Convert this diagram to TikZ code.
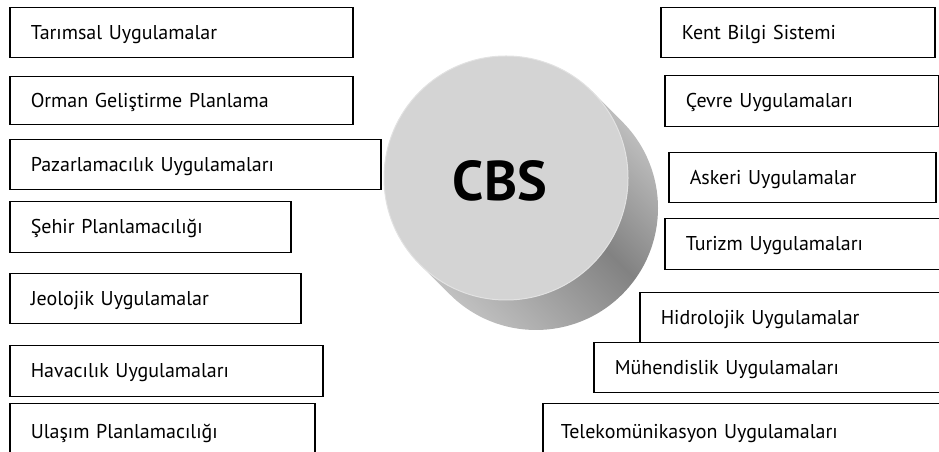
\documentclass[tikz,border=0pt]{standalone}
\usepackage{fontspec}
\setmainfont{PT Sans}
\usetikzlibrary{positioning,calc}

\definecolor{facegray}{RGB}{212,212,212}
\definecolor{rimgray}{RGB}{226,226,226}
\definecolor{sidelo}{RGB}{200,200,200}
\definecolor{sidedk}{RGB}{130,130,130}
\definecolor{sidehi}{RGB}{240,240,240}
\pgfdeclareverticalshading{sideshade}{100bp}{color(0bp)=(sidelo); color(22bp)=(sidelo); color(54bp)=(sidedk); color(92bp)=(sidehi); color(100bp)=(sidehi)}

\begin{document}
\begin{tikzpicture}[x=1pt,y=1pt,
    app/.style={draw, line width=1.5pt, fill=white, anchor=north west,
      minimum height=50pt, inner xsep=21pt, inner ysep=0pt, align=left,
      text height=14pt, text depth=0.6pt, font=\fontsize{20}{23}\selectfont}]
\useasboundingbox (0,0) rectangle (939,452);

% silindir
\coordinate (front) at (506,274);
\coordinate (back) at (536,244);
\shade[shading=sideshade, shading angle=-45]
  ($(front)+(45:122)$) -- ($(back)+(45:122)$)
  arc[start angle=45, end angle=-135, radius=122]
  -- ($(front)+(-135:122)$) -- cycle;
\filldraw[fill=facegray, draw=rimgray, line width=1pt] (front) circle (122);
\node[font=\fontsize{56}{60}\bfseries\selectfont] (cbs) at (500,271) {CBS};

% sol kutular
\node[app, text width=301pt] (tar)   at (9,445) {Tarımsal Uygulamalar};
\node[app, text width=301pt, minimum height=48pt] (orman) at (9,376) {Orman Geliştirme Planlama};
\node[app, text width=329pt] (pazar) at (9,313) {Pazarlamacılık Uygulamaları};
\node[app, text width=239pt, minimum height=51pt] (sehir) at (9,251) {Şehir Planlamacılığı};
\node[app, text width=249pt] (jeo)   at (9,179) {Jeolojik Uygulamalar};
\node[app, text width=271pt, minimum height=51pt] (hava)  at (9,107) {Havacılık Uygulamaları};
\node[app, text width=263pt, minimum height=56pt] (ulasim) at (9,49) {Ulaşım Planlamacılığı};

% sag kutular
\node[app, text width=232pt] (kent)   at (660,445) {Kent Bilgi Sistemi};
\node[app, text width=232pt, minimum height=51pt] (cevre)  at (664,377) {Çevre Uygulamaları};
\node[app, text width=225pt] (askeri) at (668,300) {Askeri Uygulamalar};
\node[app, text width=260pt, minimum height=51pt] (turizm) at (664,234) {Turizm Uygulamaları};
\node[app, text width=285pt] (hidro)  at (639,160) {Hidrolojik Uygulamalar};
\node[app, text width=331pt] (muh)    at (593,110) {Mühendislik Uygulamaları};
\node[app, text width=382pt, inner xsep=18pt, minimum height=56pt] (tele) at (542,49) {Telekomünikasyon Uygulamaları};
\end{tikzpicture}
\end{document}
